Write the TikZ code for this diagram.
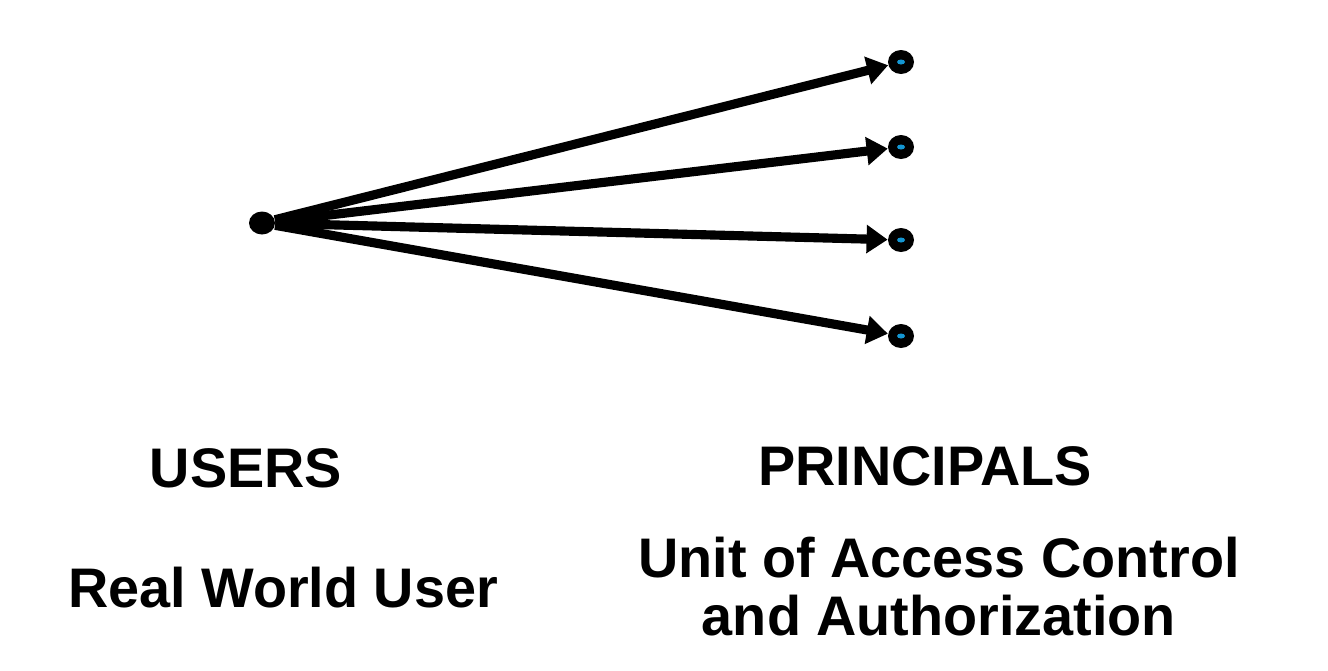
\documentclass[tikz,border=0pt]{standalone}
\usepackage{fontspec}
\setmainfont{Liberation Sans}
\usetikzlibrary{arrows.meta,shapes.geometric}
\definecolor{dotblue}{RGB}{20,150,210}

\begin{document}
\begin{tikzpicture}[
  x=0.02cm,y=-0.02cm,
  dot/.style={ellipse,inner sep=0pt,fill,minimum width=0.52cm,minimum height=0.48cm},
  link/.style={line width=5.2pt,-{Triangle[length=12pt,width=15.5pt]}},
  heading/.style={font=\fontsize{31.75}{32.9}\selectfont\bfseries,inner sep=0pt,anchor=base}
  ]
\useasboundingbox (0,0) rectangle (1328,670);
\def\px{901}
\node[dot,minimum height=0.46cm] (U) at (262,223){};   % real world user
\node[dot] (P1) at (\px,62){};    % principal
\node[dot] (P2) at (\px,147){};   % principal
\node[dot] (P3) at (\px,240){};   % principal
\node[dot] (P4) at (\px,336){};   % principal
\foreach \p in {P1,P2,P3,P4}{
  \fill[dotblue] (\p) ellipse (4 and 2.5);
  \draw[link] (U) -- (\p);
}
\node[heading] (users) at (246,487) {USERS};
\node[heading] (real) at (283,607) {Real World User};
\node[heading] (principals) at (925,485) {PRINCIPALS};
\node[heading,align=center] (unit) at (939,635) {Unit of Access Control\\and Authorization};
\end{tikzpicture}
\end{document}
